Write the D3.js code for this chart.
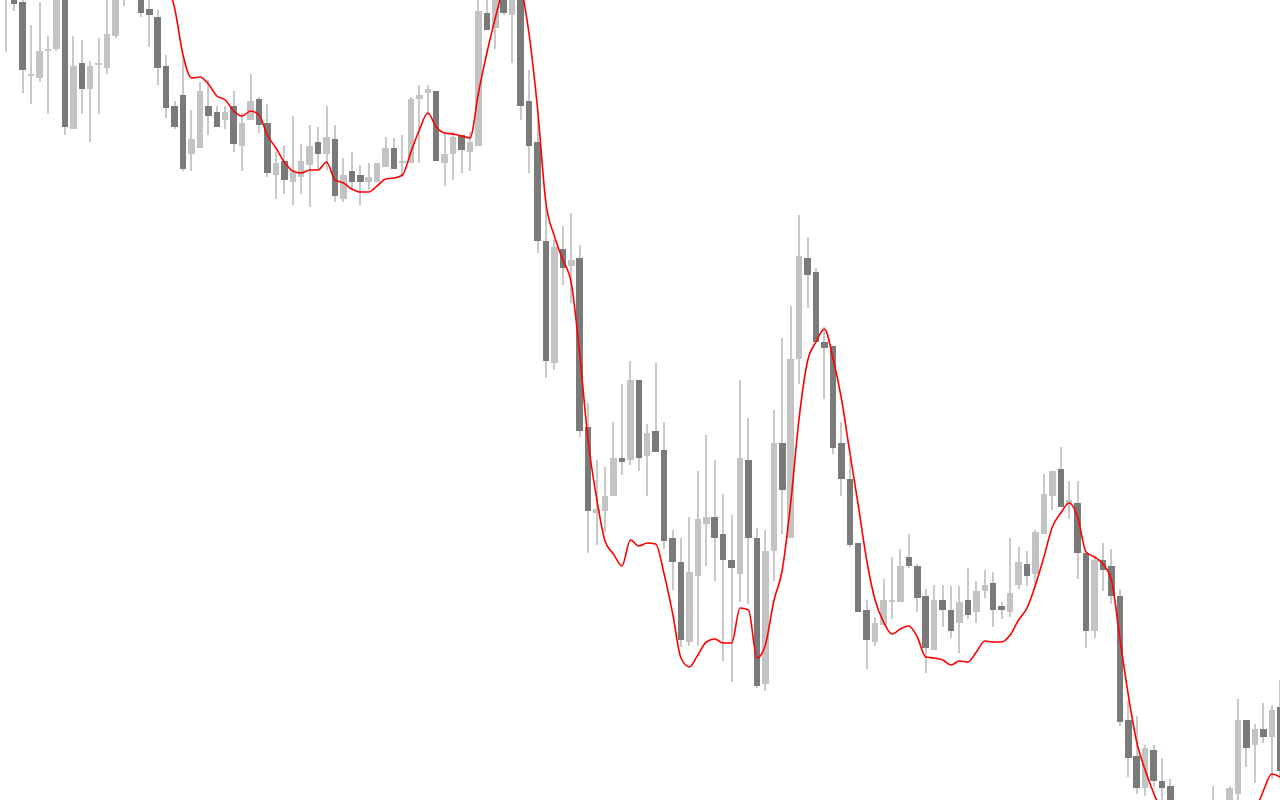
<!DOCTYPE html>
<html>
<head>
<meta charset="utf-8">
<script src="https://cdn.jsdelivr.net/npm/d3@7"></script>
<style>
  html, body { margin: 0; padding: 0; background: #ffffff; overflow: hidden; }
  svg { display: block; }
</style>
</head>
<body>
<svg id="chart" width="1280" height="800"></svg>
<script>
// Candle data (index order, oldest -> newest); values in price units
const openP = [920,915,898,824,822,849,851,903,771,837,811,835,832,864,930,940,912,891,883,834,
  794,805,746,752,794,788,780,794,754,780,801,777,725,739,718,723,735,758,746,761,
  701,729,725,718,718,733,752,737,737,801,807,809,737,746,765,748,754,887,872,920,
  885,908,799,758,659,537,651,634,642,473,387,389,404,442,440,520,444,469,450,362,
  338,258,324,376,383,366,340,326,440,362,216,349,457,362,541,642,628,558,554,457,
  421,357,290,258,275,298,298,343,334,304,250,300,290,277,300,288,309,317,294,288,
  315,336,326,366,404,431,396,397,347,269,340,334,304,180,144,112,150,119,114,85,
  60,65,50,75,85,90,106,180,155,171,163,193];
const highP = [950,925,905,875,898,864,910,910,864,860,839,862,902,908,940,950,920,902,890,845,
  799,840,790,818,820,794,794,809,787,826,803,796,748,754,784,756,775,773,794,775,
  742,748,735,737,737,763,762,765,803,815,815,809,768,768,765,768,903,903,912,925,
  920,915,830,782,695,660,674,687,655,497,440,433,478,516,539,520,476,537,478,370,
  362,383,429,465,440,406,385,520,482,372,370,490,562,594,685,663,632,573,554,478,
  442,357,300,283,321,343,351,366,336,311,315,315,314,314,332,319,330,328,298,362,
  353,349,370,426,429,453,419,419,347,344,357,351,311,199,184,155,155,142,121,95,
  80,75,85,114,97,114,201,180,176,197,195,220];
const lowP = [848,889,807,796,818,786,849,765,771,786,758,786,826,862,894,908,883,853,815,782,
  771,729,729,752,765,773,771,748,729,780,767,723,701,706,695,706,693,730,730,698,
  698,710,695,710,718,733,731,723,737,737,785,739,714,720,727,729,754,870,851,885,
  837,780,727,647,522,530,615,597,463,347,355,368,404,425,435,429,404,448,351,310,
  253,254,254,334,319,239,218,298,296,212,209,319,366,362,516,592,558,501,446,404,
  353,288,231,254,275,281,298,332,288,227,250,273,262,247,281,277,302,273,281,283,
  311,314,314,366,390,393,381,321,252,262,309,296,174,123,106,104,113,95,75,50,
  40,35,40,65,70,85,95,133,117,157,121,125];
const closeP = [940,896,830,826,849,851,903,773,834,811,834,837,866,903,910,920,887,885,832,792,
  773,731,761,809,784,773,788,756,777,799,775,727,737,720,728,739,754,746,763,704,
  725,718,718,723,737,752,731,739,801,805,811,739,746,763,750,758,889,870,905,887,
  910,794,754,659,539,653,632,640,469,389,391,404,442,438,520,442,467,448,359,338,
  260,328,381,383,362,340,332,442,362,214,349,457,410,541,644,625,558,552,452,421,
  355,288,260,277,300,300,334,334,302,252,300,290,269,298,285,309,315,290,290,307,
  338,324,368,406,429,393,400,347,269,340,330,304,178,142,112,152,119,112,85,60,
  65,50,75,85,92,112,180,152,171,163,190,129];
// Moving average (null where it lies far outside the visible window)
const maP = [null,null,null,null,null,null,null,null,null,null,null,null,null,null,null,null,null,null,null,918,
  892,845,822,823,816,804,800,789,784,789,785,765,752,738,729,727,730,730,738,720,
  717,711,708,708,714,721,722,725,748,770,787,773,767,766,764,762,807,847,882,915,
  null,917,866,792,697,664,640,617,546,459,402,359,346,334,360,354,357,356,326,287,
  242,233,245,258,261,257,257,292,290,242,255,299,330,397,482,539,558,571,542,502,
  448,395,340,300,278,266,271,274,263,243,242,240,235,239,238,248,259,258,258,265,
  280,292,315,343,373,387,397,383,348,343,336,320,262,205,158,130,107,87,null,null,
  null,null,null,null,null,null,null,null,87,109,126,123];

const W = 1280, H = 800;
const n = openP.length;
const candles = d3.range(n).map(i => ({ i, o: openP[i], h: highP[i], l: lowP[i], c: closeP[i] }));

const x = d3.scaleLinear().domain([0, n - 1]).range([5.8, 1280.2]);
const y = d3.scaleLinear().domain([100, 900]).range([H, 0]);

const bodyW = 6.5, wickW = 2;
const COL_DOWN = "#7a7a7a", COL_UP = "#c3c3c3", COL_WICK = "#c9c9c9";

const svg = d3.select("#chart");
svg.append("rect").attr("width", W).attr("height", H).attr("fill", "#ffffff");

const g = svg.append("g");

// wicks
g.selectAll("rect.wick").data(candles).join("rect")
  .attr("class", "wick")
  .attr("x", d => x(d.i) - wickW / 2)
  .attr("width", wickW)
  .attr("y", d => y(d.h))
  .attr("height", d => Math.max(1, y(d.l) - y(d.h)))
  .attr("fill", COL_WICK)
  .attr("shape-rendering", "crispEdges");

// bodies
g.selectAll("rect.body").data(candles).join("rect")
  .attr("class", "body")
  .attr("x", d => x(d.i) - bodyW / 2)
  .attr("width", bodyW)
  .attr("y", d => y(Math.max(d.o, d.c)))
  .attr("height", d => Math.max(2, Math.abs(y(d.o) - y(d.c))))
  .attr("fill", d => d.c < d.o ? COL_DOWN : COL_UP)
  .attr("shape-rendering", "crispEdges");

// moving average line
const line = d3.line()
  .defined(d => d != null)
  .x((d, i) => x(i))
  .y(d => y(d))
  .curve(d3.curveMonotoneX);

svg.append("path")
  .datum(maP)
  .attr("d", line)
  .attr("fill", "none")
  .attr("stroke", "#ff0000")
  .attr("stroke-width", 1.6)
  .attr("stroke-linejoin", "round");
</script>
</body>
</html>
